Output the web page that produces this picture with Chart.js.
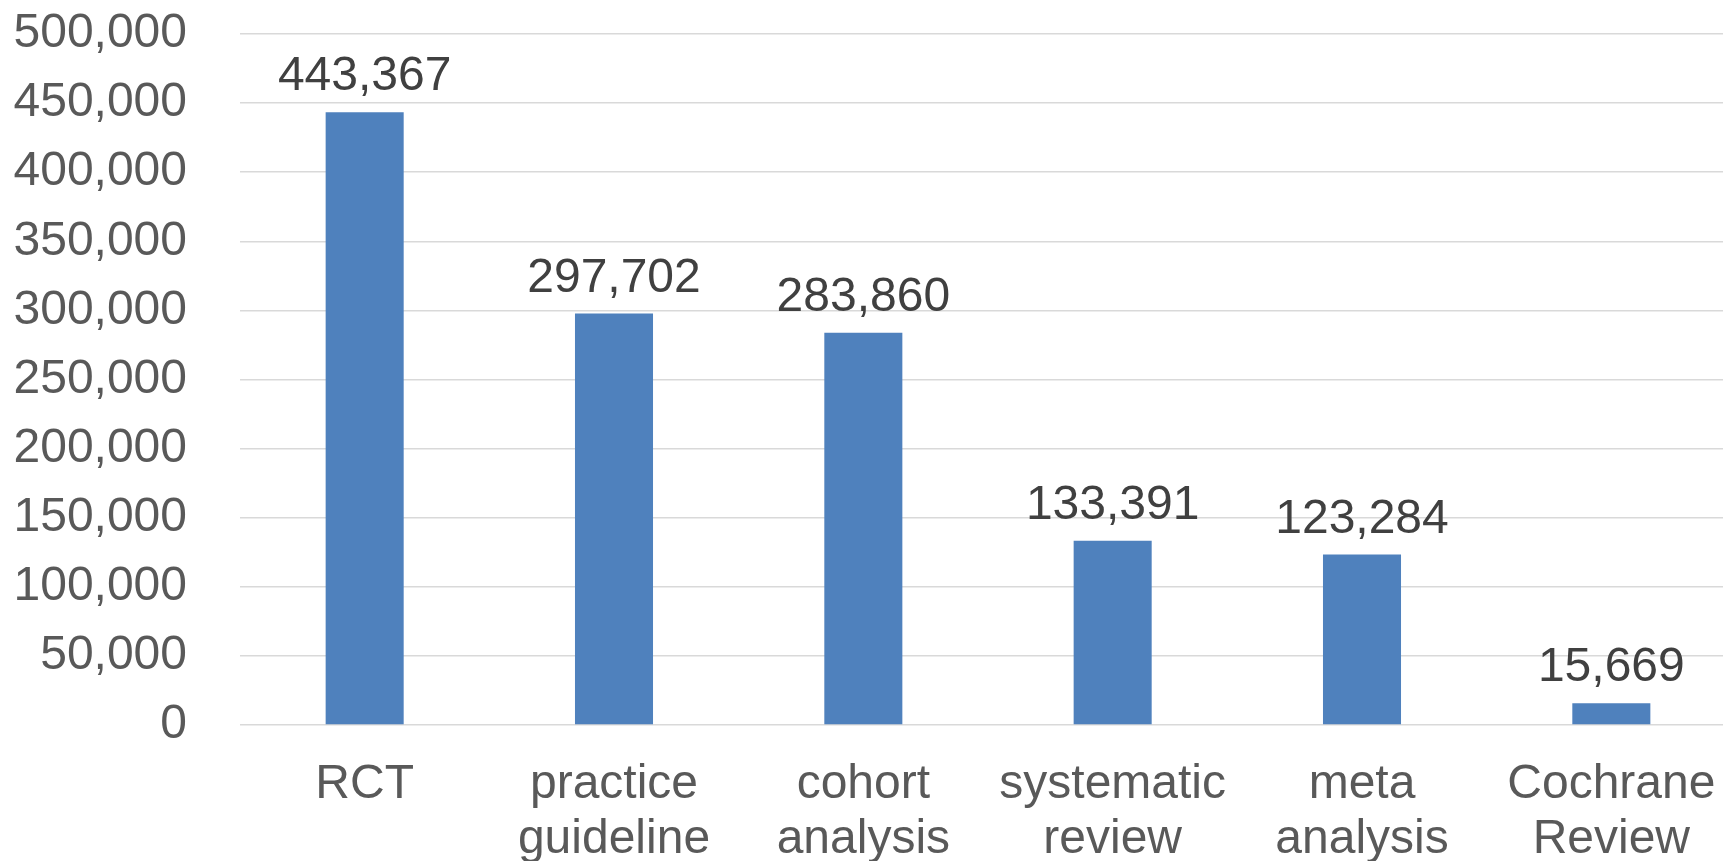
<!DOCTYPE html>
<html>
<head>
<meta charset="utf-8">
<script src="https://cdn.jsdelivr.net/npm/chart.js@4/dist/chart.umd.min.js"></script>
<style>
  html, body { margin: 0; padding: 0; background: #ffffff; overflow: hidden; width: 1723px; height: 861px; }
  #wrap { width: 1736px; height: 861px; }
</style>
</head>
<body>
<div id="wrap"><canvas id="c" width="1736" height="861"></canvas></div>
<script>
const categories = ['RCT', ['practice', 'guideline'], ['cohort', 'analysis'], ['systematic', 'review'], ['meta', 'analysis'], ['Cochrane', 'Review']];
const values = [443367, 297702, 283860, 133391, 123284, 15669];
const yTickStep = 50000;
const yMax = 500000;

const FONT = '"Liberation Sans", Arial, sans-serif';

const valueLabels = {
  id: 'valueLabels',
  afterDatasetsDraw(chart) {
    const ctx = chart.ctx;
    const meta = chart.getDatasetMeta(0);
    ctx.save();
    ctx.font = '48px ' + FONT;
    ctx.fillStyle = '#404040';
    ctx.textAlign = 'center';
    ctx.textBaseline = 'alphabetic';
    meta.data.forEach((bar, i) => {
      ctx.fillText(values[i].toLocaleString('en-US'), bar.x, bar.y - 22);
    });
    ctx.restore();
  }
};

new Chart(document.getElementById('c'), {
  type: 'bar',
  data: {
    labels: categories,
    datasets: [{
      data: values,
      backgroundColor: '#4F81BD',
      borderWidth: 0,
      categoryPercentage: 1.0,
      barPercentage: 0.313
    }]
  },
  options: {
    responsive: false,
    devicePixelRatio: 1,
    animation: false,
    layout: { padding: { left: 13, right: 0, top: 0, bottom: 0 } },
    plugins: { legend: { display: false }, tooltip: { enabled: false }, title: { display: false } },
    scales: {
      x: {
        grid: { display: false },
        border: { display: false },
        afterFit: s => { s.height = 136; s.paddingLeft = 0; s.paddingRight = 0; },
        ticks: {
          color: '#595959',
          font: { family: FONT, size: 48, lineHeight: 1.15 },
          padding: 24,
          maxRotation: 0,
          autoSkip: false
        }
      },
      y: {
        min: 0,
        max: yMax,
        grid: { color: '#D9D9D9', lineWidth: 1.5, drawTicks: false },
        border: { display: false },
        afterFit: s => { s.width = 227; s.paddingTop = 34; s.paddingBottom = 0; },
        ticks: {
          stepSize: yTickStep,
          color: '#595959',
          font: { family: FONT, size: 48 },
          padding: 53,
          callback: v => v.toLocaleString('en-US')
        }
      }
    }
  },
  plugins: [valueLabels]
});
</script>
</body>
</html>
